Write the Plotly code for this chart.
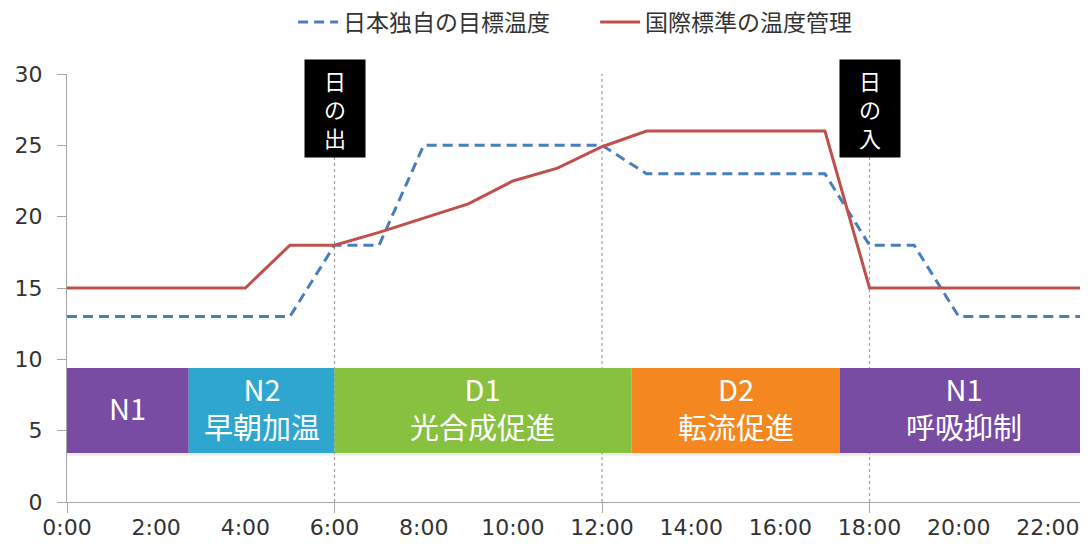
import plotly.graph_objects as go

# ---- data ----
hours_target = [0, 5, 6, 7, 8, 12, 13, 17, 18, 19, 20, 24]
temp_target = [13, 13, 18, 18, 25, 25, 23, 23, 18, 18, 13, 13]

hours_std = [0, 4, 5, 6, 7, 8, 9, 10, 11, 12, 13, 17, 18, 24]
temp_std = [15, 15, 18, 18, 18.9, 19.9, 20.9, 22.5, 23.4, 24.9, 26, 26, 15, 15]

series_names = ["日本独自の目標温度", "国際標準の温度管理"]

tick_hours = [0, 2, 4, 6, 8, 10, 12, 14, 16, 18, 20, 22]
tick_labels = ["0:00", "2:00", "4:00", "6:00", "8:00", "10:00", "12:00",
               "14:00", "16:00", "18:00", "20:00", "22:00"]
major_tick_hours = [0, 6, 12, 18]
guide_hours = [6, 12, 18]

phase_start = [0, 2.73, 6.0, 12.66, 17.33]
phase_end = [2.73, 6.0, 12.66, 17.33, 22.9]
phase_labels = ["N1", "N2<br>早朝加温", "D1<br>光合成促進", "D2<br>転流促進", "N1<br>呼吸抑制"]
phase_colors = ["#784ca2", "#2ea6cf", "#88c040", "#f4871f", "#784ca2"]
band_bottom = 3.43
band_top = 9.39

event_hours = [6, 18]
event_labels = ["日<br>の<br>出", "日<br>の<br>入"]
event_y = 27.6

x_range = [0, 22.9]
y_range = [0, 30]

CJK = "Noto Sans CJK JP"
AX = "#a6a6a6"
TXT = "#333333"

fig = go.Figure()
fig.add_trace(go.Scatter(
    x=hours_target, y=temp_target, mode="lines", name=series_names[0],
    line=dict(color="#4a7ebb", width=3, dash="10px,6px")))
fig.add_trace(go.Scatter(
    x=hours_std, y=temp_std, mode="lines", name=series_names[1],
    line=dict(color="#c0504d", width=3)))
# carrier trace for the secondary (tick-mark) axis
fig.add_trace(go.Scatter(x=[None], y=[None], xaxis="x2", showlegend=False,
                         hoverinfo="skip"))

shapes = []
for h in guide_hours:
    shapes.append(dict(type="line", xref="x", yref="y", x0=h, x1=h,
                       y0=y_range[0], y1=y_range[1], layer="below",
                       line=dict(color="#a0a0a0", width=1.2, dash="dot")))
for s, e in zip(phase_start, phase_end):
    shapes.append(dict(type="rect", xref="x", yref="y", x0=s, x1=e,
                       y0=band_bottom - 0.18, y1=band_top - 0.2, layer="below",
                       line=dict(width=0), fillcolor="rgba(0,0,0,0.08)"))
for s, e, c in zip(phase_start, phase_end, phase_colors):
    shapes.append(dict(type="rect", xref="x", yref="y", x0=s, x1=e,
                       y0=band_bottom, y1=band_top, layer="below",
                       line=dict(width=0), fillcolor=c))

annotations = []
for s, e, lab in zip(phase_start, phase_end, phase_labels):
    annotations.append(dict(x=(s + e) / 2, y=(band_bottom + band_top) / 2 + 0.25,
                            xref="x", yref="y", text=lab, showarrow=False,
                            font=dict(family=CJK, size=29, color="white")))
for h, lab in zip(event_hours, event_labels):
    annotations.append(dict(x=h, y=event_y, xref="x", yref="y", text=lab,
                            showarrow=False, bgcolor="black", width=60, height=97,
                            borderpad=0, valign="middle",
                            font=dict(family=CJK, size=22, color="white")))

# page body has an 8px margin: figure is sized/offset accordingly
fig.update_layout(
    width=1080, height=539,
    margin=dict(l=59, r=0, t=66, b=45, autoexpand=False),
    paper_bgcolor="white", plot_bgcolor="white",
    showlegend=True,
    legend=dict(orientation="h", xref="container", yref="container",
                x=0.264, xanchor="left", y=0.974, yanchor="middle",
                font=dict(family=CJK, size=23, color=TXT),
                itemwidth=40, entrywidth=247, entrywidthmode="pixels",
                bgcolor="rgba(0,0,0,0)"),
    xaxis=dict(range=x_range, tickvals=tick_hours, ticktext=tick_labels,
               ticks="", showline=True, linecolor=AX, linewidth=1.3,
               showgrid=False, zeroline=False, ticklabelstandoff=5,
               automargin=False,
               tickfont=dict(family="DejaVu Sans", size=22, color=TXT)),
    xaxis2=dict(range=x_range, overlaying="x", anchor="y", side="bottom",
                tickvals=major_tick_hours, ticks="outside", ticklen=10,
                tickcolor=AX, tickwidth=1.3, showticklabels=False,
                showline=False, showgrid=False, zeroline=False,
                automargin=False),
    yaxis=dict(range=y_range, tickvals=[0, 5, 10, 15, 20, 25, 30],
               ticks="outside", ticklen=9, tickcolor=AX, tickwidth=1.3,
               showline=True, linecolor=AX, linewidth=1.3, showgrid=False,
               zeroline=False, ticklabelstandoff=10, automargin=False,
               tickfont=dict(family="DejaVu Sans", size=22, color=TXT)),
    shapes=shapes, annotations=annotations,
)

fig.write_html("out.html")
